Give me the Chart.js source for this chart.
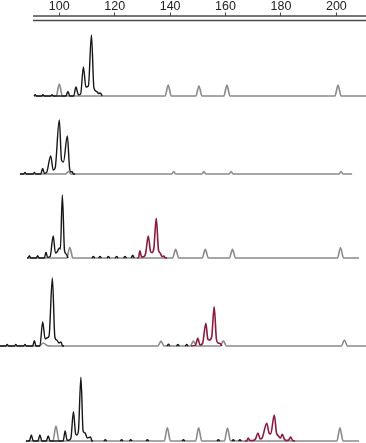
<!DOCTYPE html>
<html><head><meta charset="utf-8">
<style>html,body{margin:0;padding:0;background:#fff}#wrap{width:366px;height:443px;position:relative}</style>
<script src="https://cdn.jsdelivr.net/npm/chart.js@4.4.1/dist/chart.umd.min.js"></script>
</head><body><div id="wrap"><canvas id="c"></canvas></div>
<script>
// ---- Data (fragment size in bases, relative fluorescence) ----
const tickLabels = [100, 120, 140, 160, 180, 200];

// Panel 1
const p1Gray  = [[90.9,0],[98.9,0],[100.0,12],[101.1,0],[138.2,0],[139.3,11],[140.4,0],[149.3,0],[150.4,10],[151.5,0],[159.4,0],[160.5,11],[161.6,0],[199.5,0],[200.6,11],[201.7,0],[211,0]];
const p1Black = [[90.9,0],[91.3,1.2],[91.8,0],[93.7,0],[94.1,1.2],[94.6,0],[96.9,0],[97.4,1.2],[97.9,0],[102.4,0],[103.1,4.5],[103.8,0],[105.2,0],[106.0,9],[106.9,1.3],[107.7,2],[108.7,29],[109.6,9],[110.5,10],[111.6,61],[112.5,8],[113.5,4.5],[114.2,2.5],[114.8,3],[115.5,0]];
const p1Red   = [];

// Panel 2
const p2Gray  = [[85.8,0],[102.3,0],[103.3,2.5],[104.3,0],[140.6,0],[141.3,2.5],[142.0,0],[151.5,0],[152.2,2.2],[152.9,0],[161.3,0],[162.0,2.5],[162.7,0],[201.0,0],[201.7,2.5],[202.4,0],[205.7,0]];
const p2Black = [[85.8,0],[87.1,0],[87.6,1.5],[88.1,0],[90.5,0],[91.0,1.5],[91.5,0],[93.3,0],[94.0,5.5],[94.6,0.8],[95.4,1.5],[96.9,18],[97.8,4],[98.5,6],[100.0,54],[100.8,14],[101.5,12],[102.9,38],[103.7,6],[104.2,2],[104.6,2.5],[105.1,0],[105.7,0]];
const p2Red   = [];

// Panel 3
const p3Gray  = [[88.35,0],[102.7,0],[103.8,10.5],[104.9,0],[140.9,0],[142.0,8.7],[143.1,0],[151.6,0],[152.7,8.7],[153.8,0],[161.4,0],[162.5,8.7],[163.6,0],[200.4,0],[201.5,10.3],[202.6,0],[208.2,0]];
const p3Black = [[88.35,0],[88.7,0],[89.2,2.3],[89.7,0],[91.7,0],[92.2,2.3],[92.7,0],[94.6,0],[95.2,5.7],[95.8,0.6],[96.7,1.5],[97.8,22],[98.6,5],[99.2,6],[100.0,10],[100.4,9],[101.1,63],[101.9,7],[102.5,4],[103.2,0],
                 [108,null],[111.8,0],[112.3,1.5],[112.8,0],[113.5,null],[114.2,0],[114.7,1.5],[115.2,0],[116.5,null],[117.2,0],[117.7,1.5],[118.2,0],[119.5,null],
                 [120.2,0],[120.7,1.5],[121.2,0],[122.5,null],[123.2,0],[123.7,1.5],[124.2,0],[125.2,null],[126.0,0],[126.5,2.8],[127.0,0],[127.6,null]];
const p3Red   = [[128.1,0],[128.6,0.3],[129.1,7.3],[129.7,1],[130.6,1.5],[131.2,5],[132.1,22],[132.9,7],[133.4,5.5],[134.1,9],[135.0,39.7],[135.8,8],[136.4,5],[137.1,1.5],[137.7,2],[138.3,0],[138.9,0]];

// Panel 4
const p4Gray  = [[78.6,0],[92.8,0],[94.2,3],[95.6,0.5],[96.6,0],[135.6,0],[136.7,5],[137.8,0],[147.3,0],[148.4,5],[149.5,0],[158.1,0],[159.2,5.3],[160.3,0],[201.8,0],[202.9,6],[204.0,0],[211,0]];
const p4Black = [[78.6,0],[80.7,0],[81.2,1.5],[81.7,0],[83.8,0],[84.3,1.5],[84.8,0],[87.1,0],[87.6,1.5],[88.1,0],[90.4,0],[91.0,5.3],[91.6,0],[93.0,0],[94.0,24],[94.9,7],[95.5,8],[96.3,10],[97.5,68],[98.4,9],[99.1,6],[99.9,3],[100.6,4],[101.2,0],[101.7,0],
                 [120,null],[138.9,0],[139.4,1.8],[139.9,0],[141,null],[142.3,0],[142.8,1.5],[143.3,0],[144.5,null],[145.5,0],[146.0,1.5],[146.5,0],[147.0,null]];
const p4Red   = [[147.5,0],[149.1,0.5],[150.0,7.7],[150.8,1],[151.7,2.5],[152.9,22.7],[153.6,7],[154.2,6],[155.0,9],[155.9,39.3],[156.7,7],[157.3,3],[158.0,2.5],[158.7,0]];

// Panel 5
const p5Gray  = [[88.0,0],[97.7,0],[98.8,15],[99.9,0],[137.9,0],[139.0,13.3],[140.1,0],[149.2,0],[150.3,13.3],[151.4,0],[159.6,0],[160.7,13],[161.8,0],[200.2,0],[201.3,13.3],[202.4,0],[208.2,0]];
const p5Black = [[88.0,0],[89.2,0],[89.9,6],[90.6,0],[92.3,0],[93.0,6],[93.7,0],[95.3,0],[96.0,5],[96.7,0],[101.4,0],[102.1,10],[102.8,1],[103.5,0.8],[104.2,3],[105.1,29.3],[105.9,7],[106.3,6],[106.9,10],[107.8,63.7],[108.6,10],[109.3,8],[110.1,3],[110.7,3.5],[111.3,4],[111.8,0],[112.2,0],
                 [114,null],[116.1,0],[116.6,1.3],[117.1,0],[119,null],[122.0,0],[122.5,1.3],[123.0,0],[124,null],[125.3,0],[125.8,1.3],[126.3,0],[128,null],[131.3,0],[131.8,1.3],[132.3,0],[138,null],
                 [144.3,0],[144.8,1.3],[145.3,0],[150,null],[156.9,0],[157.4,1.3],[157.9,0],[160,null],[162.3,0],[162.8,1.3],[163.3,0],[164,null],[164.7,0],[165.2,1.3],[165.7,0],[166.3,null]];
const p5Red   = [[167.0,0],[167.6,0],[168.2,3],[168.8,0.5],[169.9,0.5],[170.8,2],[171.7,8],[172.5,2],[173.2,3],[174.9,17.7],[175.7,8],[176.3,7],[177.6,26],[178.4,8],[179.1,5],[179.8,3],[180.5,6.7],[181.2,2],[182.0,0.5],[182.8,1],[183.5,4],[184.2,0.5],[185.1,0]];

const panels = [
  {gray: p1Gray, black: p1Black, red: p1Red},
  {gray: p2Gray, black: p2Black, red: p2Red},
  {gray: p3Gray, black: p3Black, red: p3Red},
  {gray: p4Gray, black: p4Black, red: p4Red},
  {gray: p5Gray, black: p5Black, red: p5Red}
];

// ---- Layout / style ----
const PLOT_TOP = 15.5, PLOT_BOTTOM = 443;
const panelBaselinePx = [96, 174, 258, 346, 441];
const axisLineStart = 90.5;
const COLORS = {gray: '#8a8a8a', black: '#161616', red: '#8c1a3c'};
const FONT = '"Liberation Sans Narrow", "Liberation Sans", Arial, sans-serif';

const toPts = arr => arr.map(p => ({x: p[0], y: p[1]}));

const datasets = [];
const scales = {
  x: {
    type: 'linear', position: 'top', min: 78.6, max: 210.7,
    afterBuildTicks: s => { s.ticks = tickLabels.map(v => ({value: v})); },
    ticks: {font: {family: FONT, size: 12.5, lineHeight: 1}, color: '#222', padding: 0, maxRotation: 0, autoSkip: false},
    grid: {drawOnChartArea: false, drawTicks: true, tickLength: 3, color: '#444', lineWidth: 1},
    border: {display: false}
  }
};
panels.forEach((p, i) => {
  const id = 'y' + (i + 1);
  const b = panelBaselinePx[i];
  scales[id] = {type: 'linear', display: false, min: -(PLOT_BOTTOM - b), max: b - PLOT_TOP};
  [['gray', 3, 1.6], ['black', 2, 1.4], ['red', 1, 1.6]].forEach(([k, ord, lw]) => {
    if (!p[k].length) return;
    datasets.push({
      data: toPts(p[k]), yAxisID: id, borderColor: COLORS[k], borderWidth: lw,
      pointRadius: 0, fill: false, cubicInterpolationMode: 'monotone', spanGaps: false, order: ord
    });
  });
});

const doubleLine = {
  id: 'doubleLine',
  afterDraw(chart) {
    const s = chart.scales.x, ctx = chart.ctx;
    const x0 = s.getPixelForValue(axisLineStart);
    ctx.save();
    ctx.strokeStyle = '#4a4a4a';
    ctx.lineWidth = 1.5;
    [s.bottom + 0.5, s.bottom + 5].forEach(y => {
      ctx.beginPath(); ctx.moveTo(x0, y); ctx.lineTo(chart.width, y); ctx.stroke();
    });
    ctx.restore();
  }
};

new Chart(document.getElementById('c'), {
  type: 'line',
  data: {datasets},
  options: {
    responsive: true, maintainAspectRatio: false, animation: false, devicePixelRatio: 1,
    layout: {padding: 0},
    plugins: {legend: {display: false}, tooltip: {enabled: false}},
    scales
  },
  plugins: [doubleLine]
});
</script>
</body></html>
